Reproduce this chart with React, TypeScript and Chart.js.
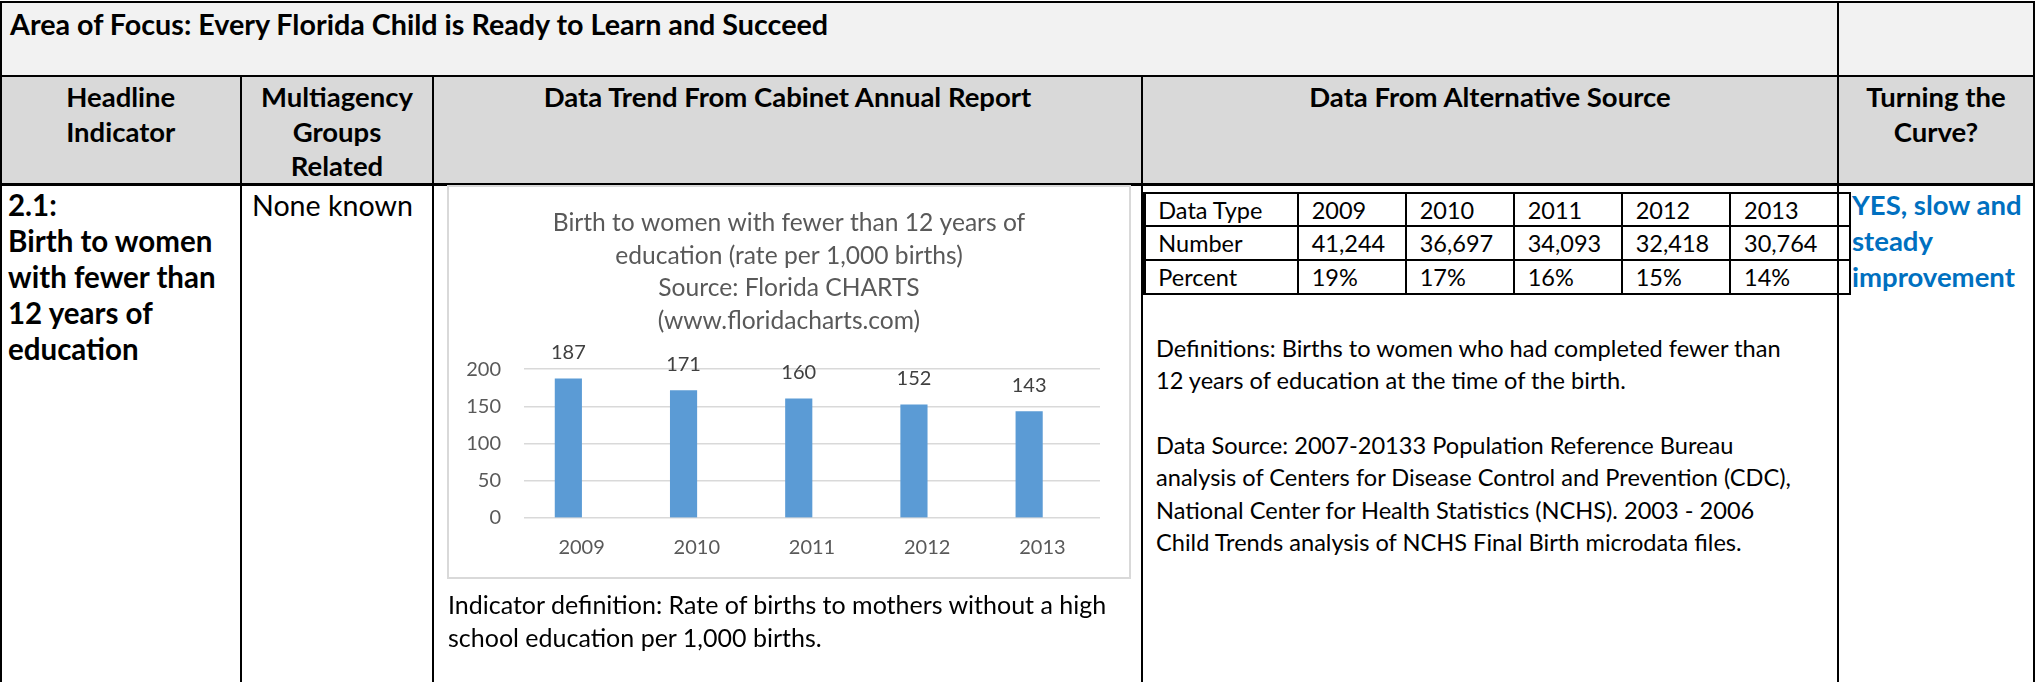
import React, { useEffect, useRef } from "react";
import { Chart, registerables } from "chart.js";

Chart.register(...registerables);

const FONT = "Lato, 'Open Sans', sans-serif";

// ---- chart data ----
const chartCategories = ["2009", "2010", "2011", "2012", "2013"];
const birthRateValues = [187, 171, 160, 152, 143];
const emptySeriesValues = [null, null, null, null, null];
const yTickValues = [0, 50, 100, 150, 200];
const chartTitleLines = [
  "Birth to women with fewer than 12 years of",
  "education (rate per 1,000 births)",
  "Source: Florida CHARTS",
  "(www.floridacharts.com)",
];

// ---- alternative source table ----
const altHeaderRow = ["Data Type", "2009", "2010", "2011", "2012", "2013"];
const altNumberRow = ["Number", "41,244", "36,697", "34,093", "32,418", "30,764"];
const altPercentRow = ["Percent", "19%", "17%", "16%", "15%", "14%"];

// ---- texts ----
const areaTitle = "Area of Focus: Every Florida Child is Ready to Learn and Succeed";
const headerCol1 = ["Headline", "Indicator"];
const headerCol2 = ["Multiagency", "Groups", "Related"];
const headerCol3 = ["Data Trend From Cabinet Annual Report"];
const headerCol4 = ["Data From Alternative Source"];
const headerCol5 = ["Turning the", "Curve?"];
const indicatorLines = ["2.1:", "Birth to women", "with fewer than", "12 years of", "education"];
const groupsText = ["None known"];
const indicatorDefinition = [
  "Indicator definition: Rate of births to mothers without a high",
  "school education per 1,000 births.",
];
const definitionLines = [
  "Definitions: Births to women who had completed fewer than",
  "12 years of education at the time of the birth.",
  "",
  "Data Source: 2007-20133 Population Reference Bureau",
  "analysis of Centers for Disease Control and Prevention (CDC),",
  "National Center for Health Statistics (NCHS). 2003 - 2006",
  "Child Trends analysis of NCHS Final Birth microdata files.",
];
const curveText = ["YES, slow and", "steady", "improvement"];

type TxtProps = {
  left: number;
  cy: number;
  width?: number;
  size: number;
  lh: number;
  bold?: boolean;
  color?: string;
  align?: "left" | "center";
  lines: string[];
};

function Txt({ left, cy, width, size, lh, bold, color = "#000", align = "left", lines }: TxtProps) {
  return (
    <div
      style={{
        position: "absolute",
        left,
        top: cy - lh / 2,
        width,
        fontFamily: FONT,
        fontSize: size,
        lineHeight: `${lh}px`,
        fontWeight: bold ? 700 : 400,
        color,
        textAlign: align,
        whiteSpace: "pre",
      }}
    >
      {lines.map((l, i) => (
        <div key={i}>{l || "\u00a0"}</div>
      ))}
    </div>
  );
}

function Rect({ x, y, w, h, c = "#000" }: { x: number; y: number; w: number; h: number; c?: string }) {
  return <div style={{ position: "absolute", left: x, top: y, width: w, height: h, background: c }} />;
}

function BirthChart() {
  const ref = useRef<HTMLCanvasElement>(null);
  useEffect(() => {
    if (!ref.current) return;
    const valueLabels = {
      id: "valueLabels",
      afterDatasetsDraw(chart: any) {
        const ctx = chart.ctx;
        const meta = chart.getDatasetMeta(0);
        ctx.save();
        ctx.font = `20px ${FONT}`;
        ctx.fillStyle = "#404040";
        ctx.textAlign = "center";
        ctx.textBaseline = "middle";
        meta.data.forEach((bar: any, i: number) => {
          ctx.fillText(String(birthRateValues[i]), bar.x, bar.y - 26);
        });
        ctx.restore();
      },
    };
    const chart = new Chart(ref.current, {
      type: "bar",
      data: {
        labels: chartCategories,
        datasets: [
          {
            label: "Rate per 1,000 births",
            data: birthRateValues,
            backgroundColor: "#5b9bd5",
            barThickness: 26.5,
            yAxisID: "y",
          },
          {
            label: "",
            data: emptySeriesValues as any,
            backgroundColor: "#ed7d31",
            barThickness: 26.5,
            yAxisID: "y",
          },
        ],
      },
      options: {
        animation: false,
        responsive: false,
        maintainAspectRatio: false,
        devicePixelRatio: 1,
        layout: { padding: 0 },
        plugins: {
          legend: { display: false },
          tooltip: { enabled: false },
          title: {
            display: true,
            text: chartTitleLines,
            color: "#595959",
            font: { family: FONT, size: 24.6, weight: "normal", lineHeight: 32.67 / 24.6 },
            padding: { top: 21.7, bottom: 31.7 },
          },
        },
        scales: {
          x: {
            grid: { display: false, drawTicks: false },
            border: { display: false },
            ticks: {
              color: "#595959",
              font: { family: FONT, size: 20 },
              padding: 18,
              maxRotation: 0,
              autoSkip: false,
            },
            afterFit: (s: any) => {
              s.height = 61.2;
            },
          },
          y: {
            position: "left",
            min: 0,
            max: 200,
            grid: { color: "#d9d9d9", lineWidth: 1.4, drawTicks: false },
            border: { display: false },
            ticks: { color: "#595959", font: { family: FONT, size: 20 }, padding: 23 },
            afterBuildTicks: (s: any) => {
              s.ticks = yTickValues.map((v) => ({ value: v }));
            },
            afterFit: (s: any) => {
              s.width = 77;
            },
          },
          yRightSpace: {
            type: "linear",
            position: "right",
            display: true,
            grid: { display: false, drawTicks: false },
            border: { display: false },
            ticks: { display: false },
            afterFit: (s: any) => {
              s.width = 31;
            },
          },
        },
      } as any,
      plugins: [valueLabels],
    });
    return () => chart.destroy();
  }, []);
  return (
    <>
      <canvas
        ref={ref}
        width={684}
        height={394}
        style={{ position: "absolute", left: 447, top: 185, width: 684, height: 394 }}
      />
      <div
        style={{
          position: "absolute",
          left: 447,
          top: 185,
          width: 684,
          height: 394,
          boxSizing: "border-box",
          border: "2px solid #d9d9d9",
          pointerEvents: "none",
        }}
      />
    </>
  );
}

function AltTable() {
  const colX = [1143.3, 1296.7, 1404.7, 1512.7, 1620.7, 1729, 1848.7];
  const rowY = [191.5, 225.3, 259.3, 293];
  const rows = [altHeaderRow, altNumberRow, altPercentRow];
  const els: React.ReactNode[] = [];
  rowY.forEach((y, i) => els.push(<Rect key={"h" + i} x={1143.3} y={y} w={1851 - 1143.3} h={2.2} />));
  colX.forEach((x, i) => els.push(<Rect key={"v" + i} x={x} y={191.5} w={2.3} h={295.2 - 191.5} />));
  rows.forEach((row, r) => {
    const cy = (rowY[r] + 2.2 + rowY[r + 1]) / 2;
    row.forEach((cell, c) => {
      els.push(<Txt key={`t${r}-${c}`} left={colX[c] + 15} cy={cy} size={23.5} lh={30} lines={[cell]} />);
    });
  });
  return <>{els}</>;
}

export default function App() {
  useEffect(() => {
    document.body.style.background = "#ffffff";
  }, []);
  const BOLD = 27.5;
  return (
    <div style={{ position: "absolute", left: 0, top: 0, width: 2037, height: 682, overflow: "hidden", background: "#fff" }}>
      {/* backgrounds */}
      <Rect x={0} y={1} w={2035} h={75} c="#f2f2f2" />
      <Rect x={0} y={76} w={2035} h={108} c="#d9d9d9" />

      {/* outer & grid lines */}
      <Rect x={0} y={1} w={2035} h={2} />
      <Rect x={0} y={1} w={2} h={681} />
      <Rect x={2033} y={1} w={2} h={681} />
      <Rect x={0} y={75} w={2035} h={2} />
      <Rect x={0} y={183} w={2035} h={2.5} />
      <Rect x={239.5} y={76} w={2.5} h={606} />
      <Rect x={432} y={76} w={2.2} h={606} />
      <Rect x={1141} y={76} w={2.2} h={606} />
      <Rect x={1837} y={1} w={2.2} h={681} />

      {/* header row 1 */}
      <Txt left={10} cy={23.5} size={28.7} lh={34} bold lines={[areaTitle]} />

      {/* header row 2 */}
      <Txt left={2} width={237.5} align="center" cy={97.5} size={BOLD} lh={34.5} bold lines={headerCol1} />
      <Txt left={242} width={190} align="center" cy={97.5} size={BOLD} lh={34.5} bold lines={headerCol2} />
      <Txt left={434} width={707} align="center" cy={97.5} size={BOLD} lh={34.5} bold lines={headerCol3} />
      <Txt left={1143} width={694} align="center" cy={97.5} size={BOLD} lh={34.5} bold lines={headerCol4} />
      <Txt left={1839} width={194} align="center" cy={97.5} size={BOLD} lh={34.5} bold lines={headerCol5} />

      {/* body row */}
      <Txt left={8} cy={204.5} size={29.5} lh={36} bold lines={indicatorLines} />
      <Txt left={252} cy={204.5} size={28.6} lh={36} lines={groupsText} />

      <BirthChart />
      <Txt left={448} cy={604} size={25} lh={33} lines={indicatorDefinition} />

      <AltTable />
      <Txt left={1156} cy={348} size={23.6} lh={32.35} lines={definitionLines} />

      <Txt left={1852} cy={204.5} size={BOLD} lh={36} bold color="#0070c0" lines={curveText} />
    </div>
  );
}
